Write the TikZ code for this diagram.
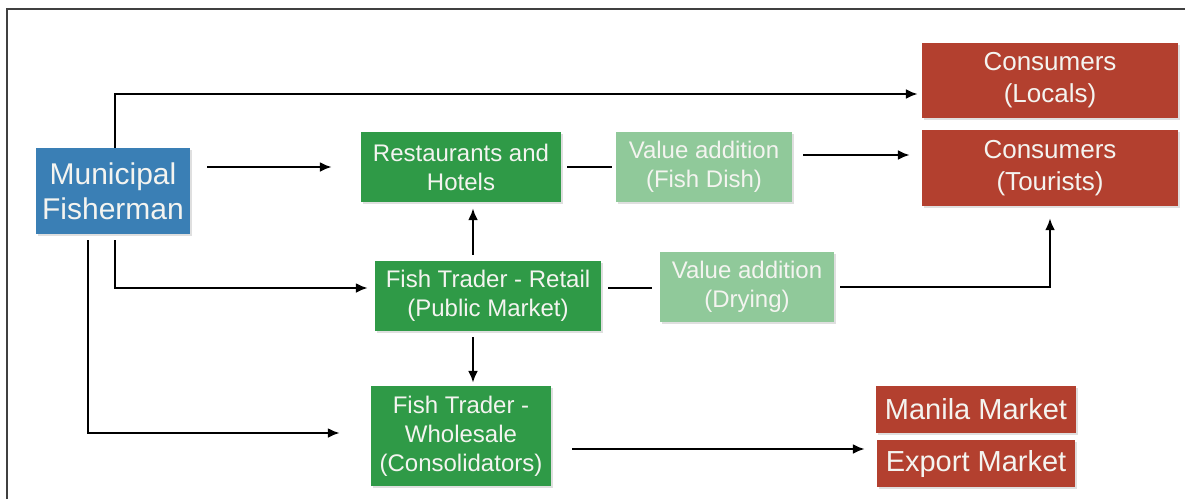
\documentclass[tikz,border=0pt]{standalone}
\usepackage{fontspec}
\setmainfont{Liberation Sans}
\usetikzlibrary{arrows.meta,shadows}
\definecolor{fblue}{HTML}{3A7FB5}
\definecolor{fgreen}{HTML}{2F9A47}
\definecolor{flgreen}{HTML}{90C99A}
\definecolor{fred}{HTML}{B3402F}
\definecolor{ftext}{HTML}{F4F4F0}
\begin{document}
\begin{tikzpicture}[x=1pt,y=-1pt,
  box/.style={rectangle, inner sep=0pt, text=ftext, align=center,
    drop shadow={shadow xshift=1.5pt,shadow yshift=-2pt,opacity=0.25}},
  bluebox/.style={box, fill=fblue},
  greenbox/.style={box, fill=fgreen},
  lightbox/.style={box, fill=flgreen},
  redbox/.style={box, fill=fred},
  fmid/.style={font=\fontsize{24}{29}\selectfont},
  conn/.style={line width=2.4pt, black},
  arr/.style={conn, -{Latex[length=12pt,width=10pt]}}]
\useasboundingbox (0,0) rectangle (1185,499);
\fill[white] (0,0) rectangle (1185,499);
\draw[line width=2.5pt, black!75] (7,499) -- (7,9) -- (1185,9);

\node[bluebox, minimum width=154pt, minimum height=86pt, font=\fontsize{30}{35}\selectfont] (mf) at (113,191) {Municipal\\Fisherman};
\node[greenbox, fmid, minimum width=200pt, minimum height=70pt] (rh) at (461,167) {Restaurants and\\Hotels};
\node[lightbox, fmid, minimum width=176pt, minimum height=70pt] (vf) at (704,167) {Value addition\\(Fish Dish)};
\node[redbox, minimum width=256pt, minimum height=75pt, font=\fontsize{26}{32}\selectfont] (cl) at (1050,80.5) {Consumers\\(Locals)};
\node[redbox, minimum width=256pt, minimum height=76pt, font=\fontsize{26}{32}\selectfont] (ct) at (1050,168) {Consumers\\(Tourists)};
\node[greenbox, fmid, minimum width=226pt, minimum height=70pt] (rt) at (488,296) {Fish Trader - Retail\\(Public Market)};
\node[lightbox, fmid, minimum width=174pt, minimum height=70pt] (vd) at (747,287) {Value addition\\(Drying)};
\node[greenbox, fmid, minimum width=180pt, minimum height=100pt] (ws) at (461,436) {Fish Trader -\\Wholesale\\(Consolidators)};
\node[redbox, minimum width=200pt, minimum height=47pt, font=\fontsize{29}{34}\selectfont] (mm) at (976,409.5) {Manila Market};
\node[redbox, minimum width=198pt, minimum height=47pt, font=\fontsize{29}{34}\selectfont] (em) at (976,463.5) {Export Market};

% connectors
\draw[arr, shorten >=4pt] ([xshift=2pt]mf.north) |- ([yshift=-13.5pt]cl.west);
\draw[arr, shorten <=17pt, shorten >=29pt] (mf.east |- rh.west) -- (rh.west);
\draw[conn, shorten <=6pt, shorten >=4pt] (rh.east) -- (vf.west);
\draw[arr, shorten <=11pt, shorten >=12pt] ([yshift=12pt]vf.east) -- ([yshift=12pt]vf.east -| ct.west);
\draw[arr, shorten <=6pt, shorten >=6pt] ([xshift=-15pt]rt.north) -- ([xshift=-15pt]rt.north |- rh.south);
\draw[arr, shorten <=6pt, shorten >=3pt] ([xshift=-15pt]rt.south) -- ([xshift=-15pt]rt.south |- ws.north);
\draw[arr, shorten <=6pt, shorten >=7pt] ([xshift=2pt]mf.south) |- ([yshift=8pt]rt.west);
\draw[arr, shorten <=6pt, shorten >=31pt] ([xshift=-25pt]mf.south) |- ([yshift=3pt]ws.west);
\draw[conn, shorten <=7pt, shorten >=8pt] ([yshift=8pt]rt.east) -- ([yshift=8pt]rt.east -| vd.west);
\draw[arr, shorten <=6pt, shorten >=12pt] (vd.east) -| (ct.south);
\draw[arr, shorten <=21pt, shorten >=12pt] ([yshift=-13pt]ws.east) -- ([yshift=-13pt]ws.east -| em.west);
\end{tikzpicture}
\end{document}
